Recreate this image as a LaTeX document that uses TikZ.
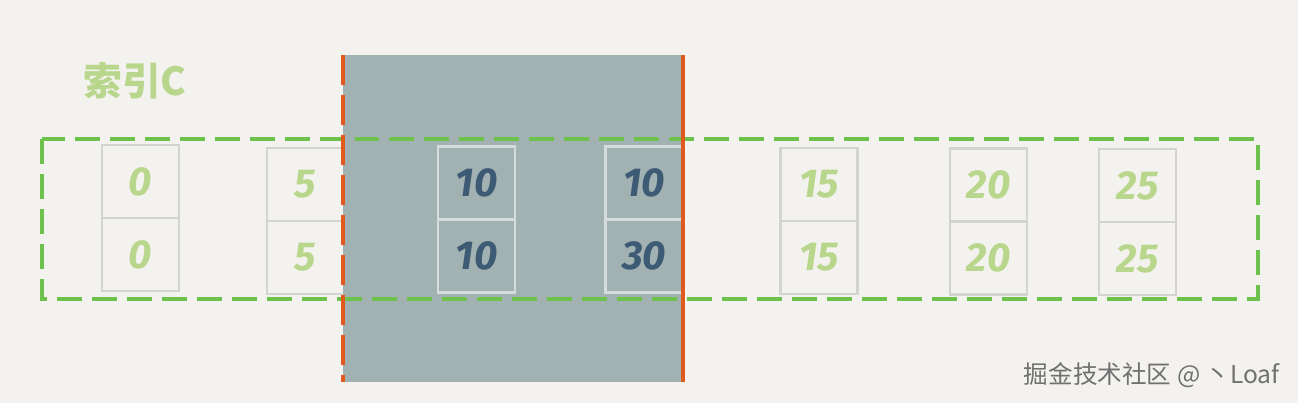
\documentclass[tikz,border=0pt]{standalone}
\usepackage{fontspec}
\newfontfamily\cjkfont{Noto Sans CJK SC}
\newfontfamily\handfont{Fira Sans}
\usetikzlibrary{positioning}
\definecolor{paper}{HTML}{F4F2EE}
\definecolor{rangegray}{HTML}{A2B2B2}
\definecolor{cellgray}{HTML}{D3D3D1}
\definecolor{cellgrayin}{HTML}{D6DCDC}
\definecolor{indexgreen}{HTML}{6CC24A}
\definecolor{numgreen}{HTML}{B8D78C}
\definecolor{numblue}{HTML}{3D5B74}
\definecolor{edgeorange}{HTML}{E05A1E}
\definecolor{markgray}{HTML}{707070}

\begin{document}
\begin{tikzpicture}[
    x=0.02cm, y=-0.02cm,
    node distance=0cm,
    cell/.style={draw=cellgray, line width=1.2pt, outer sep=0pt, inner sep=0pt, minimum width=1.54cm, minimum height=1.46cm, text=numgreen, font=\handfont\bfseries\itshape\fontsize{23}{23}\selectfont},
    cellin/.style={cell, draw=cellgrayin, text=numblue},
    indexbox/.style={draw=indexgreen, line width=2.5pt, dash pattern=on 0.5cm off 0.2cm},
    edge/.style={draw=edgeorange, line width=1.8pt}
  ]
    \useasboundingbox[fill=paper] (0,0) rectangle (1298,403);

    % cells left of the range
    \node[cell] (c0a) at (140.5,181.5) {0};
    \node[cell, below=of c0a] (c0b) {0};
    \node[cell] (c5a) at (305.5,184.5) {5};
    \node[cell, below=of c5a] (c5b) {5};

    % scanned range
    \coordinate (rtl) at (343,55);
    \coordinate (rbr) at (683,382);
    \fill[rangegray] (rtl) rectangle (rbr);

    \node[cellin] (c10a) at (476.5,183) {10};
    \node[cellin, below=of c10a] (c10b) {10};
    \node[cellin] (c30a) at (644,183) {10};
    \node[cellin, below=of c30a] (c30b) {30};

    % cells right of the range
    \node[cell] (c15a) at (819,184.5) {15};
    \node[cell, below=of c15a] (c15b) {15};
    \node[cell] (c20a) at (988.5,185) {20};
    \node[cell, below=of c20a] (c20b) {20};
    \node[cell] (c25a) at (1137.5,185.5) {25};
    \node[cell, below=of c25a] (c25b) {25};

    % index c
    \draw[indexbox] (42,139) rectangle (1258,299);
    \node[text=numgreen, font=\cjkfont\bfseries\fontsize{22}{22}\selectfont] (idx) at (135,81) {索引C};

    % range edges
    \draw[edge, dash pattern=on 0.6cm off 0.2cm] (rtl) -- (rtl |- rbr);
    \draw[edge] (rbr |- rtl) -- (rbr);

    \node[text=markgray, font=\cjkfont\fontsize{14}{14}\selectfont, anchor=east] (mark) at (1286,375) {掘金技术社区 @ 丶Loaf};
  \end{tikzpicture}
\end{document}
